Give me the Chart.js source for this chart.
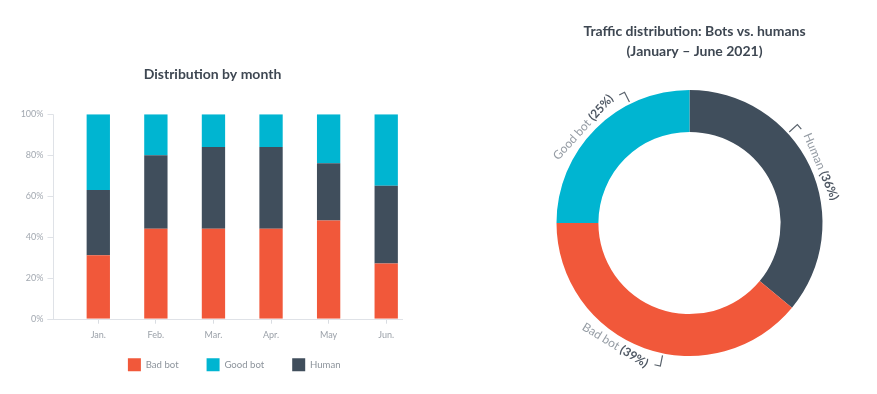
<!DOCTYPE html>
<html>
<head>
<meta charset="utf-8">
<script src="https://cdn.jsdelivr.net/npm/chart.js@4"></script>
<style>
html, body { margin: 0; padding: 0; background: #fff; }
#wrap { position: relative; width: 877px; height: 394px; overflow: hidden; }
#bars { position: absolute; left: 0; top: 0; }
#donut { position: absolute; left: 501px; top: 0; }
</style>
</head>
<body>
<div id="wrap">
  <canvas id="bars" width="440" height="394"></canvas>
  <canvas id="donut" width="377" height="394"></canvas>
</div>
<script>
// monthly split, %
const months = ['Jan.', 'Feb.', 'Mar.', 'Apr.', 'May', 'Jun.'];
const badBot = [31, 44, 44, 44, 48, 27];
const human = [32, 36, 40, 40, 28, 38];
const goodBot = [37, 20, 16, 16, 24, 35];

// Jan - Jun totals, %
const shareLabels = ['Human', 'Bad bot', 'Good bot'];
const shareValues = [36, 39, 25];

const RED = '#f1583a';
const CYAN = '#00b5d1';
const SLATE = '#404e5c';
const TITLE = '#3e4752';
const FONT = 'Lato';

// legend order is Bad bot, Good bot, Human (stack order is bad, human, good)
const legendRank = [0, 2, 1];

// y axis line sits left of the bars, like the original
const axisFrame = {
  id: 'axisFrame',
  beforeDatasetsDraw(chart, args, opts) {
    const {ctx, chartArea, scales: {y}} = chart;
    const ax = Math.round(chartArea.left + opts.shiftX) + 0.5;
    const y0 = Math.round(y.getPixelForValue(0)) + 0.5;
    const y1 = Math.round(y.getPixelForValue(100)) + 0.5;
    ctx.save();
    ctx.strokeStyle = opts.color;
    ctx.lineWidth = 1;
    ctx.beginPath();
    ctx.moveTo(ax, y1);
    ctx.lineTo(ax, y0);
    y.ticks.forEach(t => {
      const py = Math.round(y.getPixelForValue(t.value)) + 0.5;
      ctx.moveTo(ax - opts.tick, py);
      ctx.lineTo(ax, py);
    });
    ctx.moveTo(ax - opts.tick, y0);
    ctx.lineTo(chartArea.right + opts.endX, y0);
    ctx.stroke();
    ctx.restore();
  }
};

// move legend / title boxes a little from where chart.js puts them
const boxNudge = {
  id: 'boxNudge',
  afterLayout(chart, args, opts) {
    [['legend', chart.legend], ['title', chart.titleBlock]].forEach(([key, box]) => {
      const n = opts[key];
      if (!n || !box) return;
      box.left += n.dx || 0;
      box.right += n.dx || 0;
      box.top += n.dy || 0;
      box.bottom += n.dy || 0;
    });
  }
};

new Chart(document.getElementById('bars'), {
  type: 'bar',
  data: {
    labels: months,
    datasets: [
      {label: 'Bad bot', data: badBot, backgroundColor: RED},
      {label: 'Human', data: human, backgroundColor: SLATE},
      {label: 'Good bot', data: goodBot, backgroundColor: CYAN}
    ]
  },
  options: {
    responsive: false,
    animation: false,
    layout: {padding: {left: 10, right: 25, top: 0, bottom: 0.3}},
    datasets: {bar: {categoryPercentage: 1, barPercentage: 0.405, borderWidth: 0}},
    scales: {
      x: {
        stacked: true,
        border: {display: false},
        grid: {drawOnChartArea: false, drawTicks: true, tickLength: 5, offset: false, color: '#d9dde2'},
        ticks: {color: '#9ba1a9', font: {family: FONT, size: 9}, padding: 6},
        afterFit(s) { s.height = 24; }
      },
      y: {
        stacked: true,
        min: 0,
        max: 100,
        border: {display: false},
        grid: {display: false, drawTicks: false},
        ticks: {stepSize: 20, callback: v => v + '%', color: '#a3a9b1', font: {family: FONT, size: 9}, padding: 26},
        afterFit(s) { s.width = 59.5; }
      }
    },
    plugins: {
      title: {
        display: true,
        text: 'Distribution by month',
        color: TITLE,
        font: {family: FONT, size: 14, weight: 'bold', lineHeight: 1.2},
        padding: {top: 65.6, bottom: 31.9}
      },
      legend: {
        position: 'bottom',
        fullSize: false,
        labels: {
          boxWidth: 13,
          boxHeight: 13,
          padding: 28,
          color: '#8d949c',
          font: {family: FONT, size: 9.6},
          sort: (a, b) => legendRank[a.datasetIndex] - legendRank[b.datasetIndex]
        }
      },
      tooltip: {enabled: false},
      axisFrame: {shiftX: -17, tick: 6, endX: -12, color: '#dfe2e7'},
      boxNudge: {legend: {dx: -8, dy: -12.4}}
    }
  },
  plugins: [axisFrame, boxNudge]
});

// labels written along the ring, with a small bracket
const ringLabels = {
  id: 'ringLabels',
  afterDatasetsDraw(chart, args, opts) {
    const {ctx} = chart;
    const meta = chart.getDatasetMeta(0);
    const values = chart.data.datasets[0].data;
    const regular = opts.size + 'px ' + FONT;
    const bold = 'bold ' + opts.size + 'px ' + FONT;
    meta.data.forEach((arc, i) => {
      const p = arc.getProps(['x', 'y', 'startAngle', 'endAngle', 'outerRadius'], true);
      const ang = (p.startAngle + p.endAngle) / 2 + opts.nudge[i] * Math.PI / 180;
      const lower = Math.sin(ang) > 0;
      const dir = lower ? -1 : 1;
      const name = chart.data.labels[i] + ' ';
      const pct = '(' + values[i] + '%)';
      ctx.save();
      ctx.font = regular;
      const w1 = ctx.measureText(name).width;
      ctx.font = bold;
      const w2 = ctx.measureText(pct).width;
      const w = w1 + w2;
      const rt = p.outerRadius + opts.gap;

      ctx.save();
      ctx.translate(p.x + rt * Math.cos(ang), p.y + rt * Math.sin(ang));
      ctx.rotate(lower ? ang - Math.PI / 2 : ang + Math.PI / 2);
      ctx.textAlign = 'left';
      ctx.textBaseline = lower ? 'top' : 'bottom';
      ctx.font = regular;
      ctx.fillStyle = opts.nameColor;
      ctx.fillText(name, -w / 2, 0);
      ctx.font = bold;
      ctx.fillStyle = opts.pctColor;
      ctx.fillText(pct, -w / 2 + w1, 0);
      ctx.restore();

      const side = opts.bracket[i];
      const r1 = p.outerRadius + 2;
      const r2 = p.outerRadius + 13;
      const phi = ang + side * dir * (w / 2 + opts.bracketGap) / rt;
      const phi2 = phi - side * dir * 6 / r2;
      ctx.strokeStyle = opts.bracketColor;
      ctx.lineWidth = 1.2;
      ctx.beginPath();
      ctx.moveTo(p.x + r1 * Math.cos(phi), p.y + r1 * Math.sin(phi));
      ctx.lineTo(p.x + r2 * Math.cos(phi), p.y + r2 * Math.sin(phi));
      ctx.lineTo(p.x + r2 * Math.cos(phi2), p.y + r2 * Math.sin(phi2));
      ctx.stroke();
      ctx.restore();
    });
  }
};

new Chart(document.getElementById('donut'), {
  type: 'doughnut',
  data: {
    labels: shareLabels,
    datasets: [{data: shareValues, backgroundColor: [SLATE, RED, CYAN], borderWidth: 0}]
  },
  options: {
    responsive: false,
    animation: false,
    cutout: '68.5%',
    layout: {padding: {bottom: 38}},
    plugins: {
      title: {
        display: true,
        text: ['Traffic distribution: Bots vs. humans', '(January \u2013 June 2021)'],
        color: TITLE,
        font: {family: FONT, size: 14, weight: 'bold', lineHeight: 20 / 14},
        padding: {top: 21.7, bottom: 28.3}
      },
      legend: {display: false},
      tooltip: {enabled: false},
      boxNudge: {title: {dx: 5}},
      ringLabels: {
        size: 12,
        gap: 4,
        nudge: [2, 11.5, -3],
        bracket: [-1, 1, 1],
        bracketGap: 10,
        nameColor: '#959ca4',
        pctColor: '#4f5864',
        bracketColor: '#5a636d'
      }
    }
  },
  plugins: [ringLabels, boxNudge]
});
</script>
</body>
</html>
